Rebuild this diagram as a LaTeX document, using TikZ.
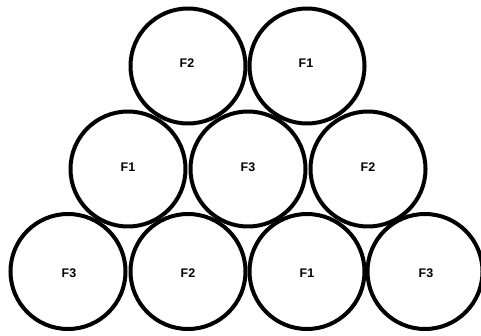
\documentclass[tikz,border=0pt]{standalone}
\usepackage{fontspec}
\setmainfont{Liberation Sans}
\begin{document}
\begin{tikzpicture}[x=1pt,y=-1pt,
  ball/.style={draw=black,line width=4pt,circle,minimum size=115pt,inner sep=0pt},
  lbl/.style={font=\bfseries\fontsize{12.5}{14}\selectfont,inner sep=0pt}]
\useasboundingbox (0,0) rectangle (481,336);
\fill[white] (0,0) rectangle (481,336);
% top row
\node[ball] (t1) at (188,66) {};
\node[ball] (t2) at (307,66) {};
% middle row
\node[ball] (m1) at (128,169) {};
\node[ball] (m2) at (248,169) {};
\node[ball] (m3) at (368,169) {};
% bottom row
\node[ball] (b1) at (68,271.5) {};
\node[ball] (b2) at (188,271.5) {};
\node[ball] (b3) at (307,271.5) {};
\node[ball] (b4) at (425,271.5) {};
\node[lbl] (lt1) at (187,63) {F2};
\node[lbl] (lt2) at (306,63) {F1};
\node[lbl] (lm1) at (128,167.5) {F1};
\node[lbl] (lm2) at (248,167.5) {F3};
\node[lbl] (lm3) at (368,167.5) {F2};
\node[lbl] (lb1) at (69,273) {F3};
\node[lbl] (lb2) at (188,273) {F2};
\node[lbl] (lb3) at (307,273) {F1};
\node[lbl] (lb4) at (426,273) {F3};
\end{tikzpicture}
\end{document}
